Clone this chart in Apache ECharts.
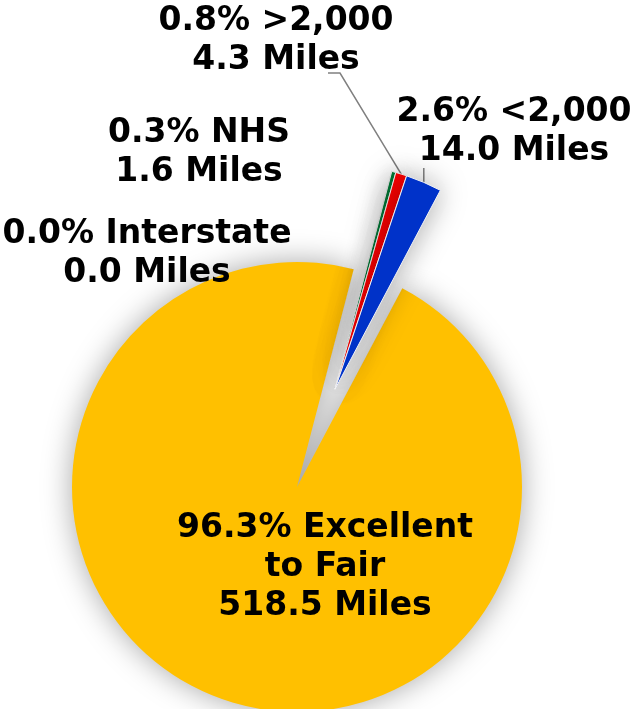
<!DOCTYPE html>
<html>
<head>
<meta charset="utf-8">
<script src="https://cdn.jsdelivr.net/npm/echarts@6/dist/echarts.min.js"></script>
<style>
html,body{margin:0;padding:0;background:#fff;}
#chart{width:633px;height:709px;}
</style>
</head>
<body>
<div id="chart"></div>
<script>
// Data
const categories = ['Interstate', 'NHS', '>2,000', '<2,000', 'Excellent to Fair'];
const miles = [0.0, 1.6, 4.3, 14.0, 518.5];
const percentLabels = ['0.0%', '0.3%', '0.8%', '2.6%', '96.3%'];
const labelNames = ['Interstate', 'NHS', '>2,000', '<2,000', 'Excellent\nto Fair'];
const exploded = [true, true, true, true, false];

// Styles / layout (kept separate from data)
const colors = ['#1F4E79', '#00803A', '#FF0000', '#0033CC', '#FFC000'];
const labelCenters = [[147, 254], [199, 153], [276, 41], [514, 132], [325, 567]];
const leaderStyle = ['none', 'none', 'elbow', 'vertical', 'none'];
const pieCenter = [297, 487];
const pieRadius = 225;
const startAngle = 75.4;
const explodeDist = 105;

// direction of the exploded group (middle of the small slices)
const total = miles.reduce((a, b) => a + b, 0);
const smallSum = miles.reduce((a, v, i) => a + (exploded[i] ? v : 0), 0);
const midDeg = startAngle - (smallSum / total) * 360 / 2;
const midRad = midDeg * Math.PI / 180;
const explodedCenter = [pieCenter[0] + explodeDist * Math.cos(midRad), pieCenter[1] - explodeDist * Math.sin(midRad)];

const hidden = {color: 'rgba(0,0,0,0)', shadowBlur: 0, borderWidth: 0};

function makeData(visibleWhen) {
  return categories.map((c, i) => {
    const vis = exploded[i] === visibleWhen;
    return {
      name: c,
      value: miles[i],
      itemStyle: vis ? {color: colors[i]} : hidden,
      label: {show: vis},
      labelLine: {show: vis && leaderStyle[i] !== 'none'}
    };
  });
}

const labelCommon = {
  formatter: (p) => {
    const i = p.dataIndex;
    return percentLabels[i] + ' ' + labelNames[i] + '\n' + miles[i].toFixed(1) + ' Miles';
  },
  fontFamily: 'DejaVu Sans',
  fontWeight: 'bold',
  fontSize: 33,
  lineHeight: 39,
  color: '#000',
  align: 'center'
};

const layoutFn = (params) => {
  const i = params.dataIndex;
  const cx = labelCenters[i][0];
  const cy = labelCenters[i][1];
  const h = params.labelRect.height;
  const bottom = cy + h / 2;
  const out = {x: cx, y: cy, align: 'center', verticalAlign: 'middle'};
  const pts = params.labelLinePoints;
  if (pts && leaderStyle[i] === 'elbow') {
    const p0 = pts[0];
    out.labelLinePoints = [[p0[0], p0[1]], [cx + 64, bottom - 7], [cx + 52, bottom - 7]];
  } else if (pts && leaderStyle[i] === 'vertical') {
    const p0 = pts[0];
    out.labelLinePoints = [[p0[0], p0[1]], [p0[0], bottom - 3], [p0[0], bottom - 3]];
  }
  return out;
};

const chart = echarts.init(document.getElementById('chart'), null, {renderer: 'canvas'});

chart.setOption({
  animation: false,
  series: [{
    type: 'pie',
    center: pieCenter,
    radius: pieRadius,
    startAngle: startAngle,
    clockwise: true,
    silent: true,
    emphasis: {disabled: true},
    avoidLabelOverlap: false,
    itemStyle: {shadowBlur: 30, shadowColor: 'rgba(0,0,0,0.35)'},
    label: Object.assign({show: true, position: 'inside'}, labelCommon),
    labelLine: {show: false},
    labelLayout: layoutFn,
    data: makeData(false)
  }, {
    type: 'pie',
    center: explodedCenter,
    radius: pieRadius,
    startAngle: startAngle,
    clockwise: true,
    silent: true,
    emphasis: {disabled: true},
    avoidLabelOverlap: false,
    itemStyle: {
      shadowBlur: 30,
      shadowColor: 'rgba(0,0,0,0.35)',
      borderColor: '#f2f2f2',
      borderWidth: 1
    },
    label: Object.assign({show: true, position: 'outside'}, labelCommon),
    labelLine: {
      show: true,
      length: 10,
      length2: 10,
      lineStyle: {color: '#808080', width: 1.5}
    },
    labelLayout: layoutFn,
    data: makeData(true)
  }]
});
</script>
</body>
</html>
